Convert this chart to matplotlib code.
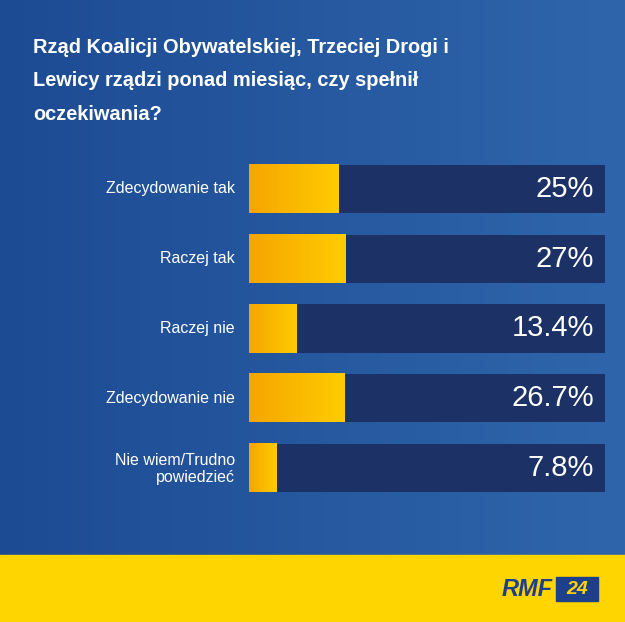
import numpy as np
import matplotlib.pyplot as plt
from matplotlib.colors import LinearSegmentedColormap

# dane
kategorie = ["Zdecydowanie tak", "Raczej tak", "Raczej nie",
             "Zdecydowanie nie", "Nie wiem/Trudno\npowiedzieć"]
wartosci = [25, 27, 13.4, 26.7, 7.8]
etykiety = ["25%", "27%", "13.4%", "26.7%", "7.8%"]
tytul = ("Rząd Koalicji Obywatelskiej, Trzeciej Drogi i\n"
         "Lewicy rządzi ponad miesiąc, czy spełnił\n"
         "oczekiwania?")

W, H = 625, 622
fig = plt.figure(figsize=(W / 100, H / 100), dpi=100)

# tło z gradientem
bg = fig.add_axes([0, 0, 1, 1])
bg.set_xlim(0, W)
bg.set_ylim(H, 0)
bg.axis("off")
cmap_bg = LinearSegmentedColormap.from_list("bg", ["#1d4b93", "#2f66ab"])
grad = np.linspace(0, 1, 256).reshape(1, -1)
bg.imshow(grad, cmap=cmap_bg, extent=[0, W, 555, 0], aspect="auto")
bg.add_patch(plt.Rectangle((0, 555), W, H - 555, color="#ffd500"))
bg.text(33, 38, tytul, color="white", fontsize=14.4, fontweight="bold",
        va="top", ha="left", linespacing=1.95, family="Liberation Sans")
bg.text(553, 589, "RMF", color="#1e3f8a", fontsize=17, fontweight="bold",
        fontstyle="italic", va="center", ha="right", family="Liberation Sans")
bg.add_patch(plt.Rectangle((556, 577), 42, 24, color="#1e3f8a"))
bg.text(577, 589, "24", color="#ffd500", fontsize=14, fontweight="bold",
        fontstyle="italic", va="center", ha="center", family="Liberation Sans")

# wykres
ax = fig.add_axes([249 / W, 1 - 503 / H, 356 / W, 349 / H])
y = np.arange(len(kategorie))
ax.barh(y, [100] * len(y), height=0.69, color="#1c3266", zorder=1)
cmap_bar = LinearSegmentedColormap.from_list("bar", ["#f6a500", "#ffcc00"])
for i, v in enumerate(wartosci):
    ax.imshow(grad, cmap=cmap_bar, extent=[0, v, i + 0.345, i - 0.345],
              aspect="auto", zorder=2)
    ax.text(97, i, etykiety[i], color="white", fontsize=21, ha="right",
            va="center", family="Liberation Sans", zorder=3)
    fig.text(235 / W, 1 - (189 + 70 * i) / H, kategorie[i], color="white",
             fontsize=11.5, ha="right", va="center", family="Liberation Sans")
ax.set_xlim(0, 100)
ax.set_ylim(len(kategorie) - 0.5, -0.5)
ax.axis("off")

fig.savefig("out.png", dpi=100)
